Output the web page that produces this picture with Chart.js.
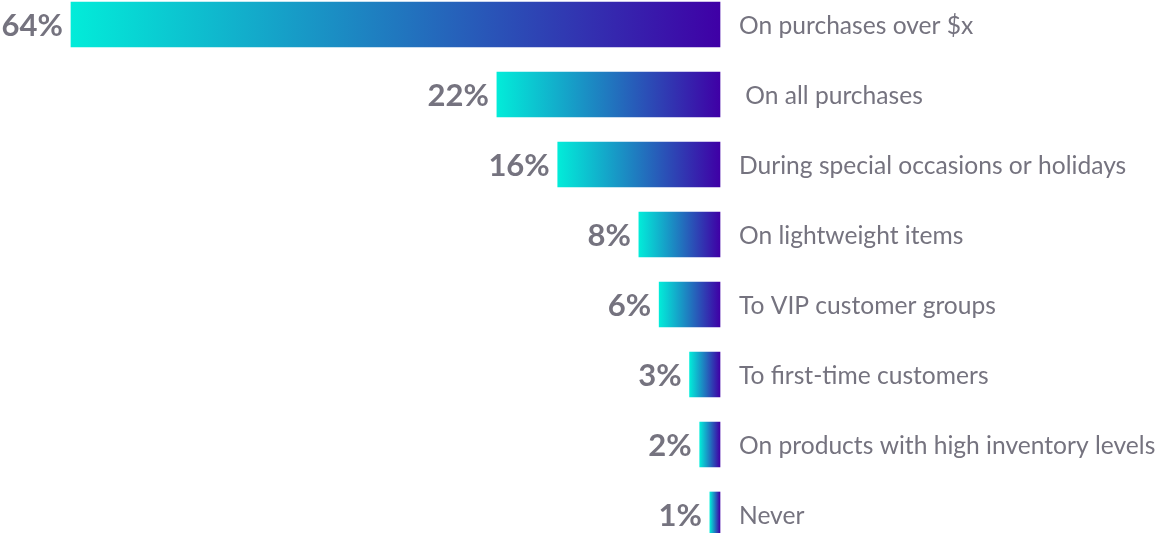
<!DOCTYPE html>
<html>
<head>
<meta charset="utf-8">
<script src="https://cdn.jsdelivr.net/npm/chart.js@4/dist/chart.umd.min.js"></script>
<style>
  html, body { margin: 0; padding: 0; background: #ffffff; }
  #wrap { width: 1156px; height: 533px; position: relative; }
</style>
</head>
<body>
<div id="wrap"><canvas id="c"></canvas></div>
<script>
const categories = [
  "On purchases over $x",
  " On all purchases",
  "During special occasions or holidays",
  "On lightweight items",
  "To VIP customer groups",
  "To first-time customers",
  "On products with high inventory levels",
  "Never"
];
const values = [64, 22, 16, 8, 6, 3, 2, 1];
const valueLabels = ["64%", "22%", "16%", "8%", "6%", "3%", "2%", "1%"];

const TEXT_GRAY = "#75737f";
const FONT = "Lato, 'Open Sans', sans-serif";

function barGradient(ctx) {
  const chart = ctx.chart;
  if (!chart.chartArea || !chart.scales.x) return "#1aa0c8";
  const xs = chart.scales.x;
  const v = ctx.raw;
  const xStart = xs.getPixelForValue(v);
  const xEnd = xs.getPixelForValue(0);
  const g = chart.ctx.createLinearGradient(xStart, 0, xEnd, 0);
  g.addColorStop(0, "#02ecd9");
  g.addColorStop(0.5, "#2078bf");
  g.addColorStop(1, "#3f00a6");
  return g;
}

const labelPlugin = {
  id: "labels",
  afterDatasetsDraw(chart) {
    const meta = chart.getDatasetMeta(0);
    const c = chart.ctx;
    const right = chart.chartArea.right;
    c.save();
    c.fillStyle = TEXT_GRAY;
    c.textBaseline = "middle";
    meta.data.forEach((el, i) => {
      c.font = "bold 31px " + FONT;
      c.textAlign = "right";
      c.fillText(valueLabels[i], el.x - 8, el.y + 1);
      c.font = "24.6px " + FONT;
      c.textAlign = "left";
      c.fillText(categories[i], right + 19, el.y + 2);
    });
    c.restore();
  }
};

new Chart(document.getElementById("c"), {
  type: "bar",
  data: {
    labels: categories,
    datasets: [{
      data: values,
      backgroundColor: barGradient,
      borderWidth: 0,
      barThickness: 45,
      clip: false
    }]
  },
  options: {
    indexAxis: "y",
    responsive: true,
    maintainAspectRatio: false,
    animation: false,
    layout: { padding: { top: 24.5, bottom: 18.5, left: 0, right: 436 } },
    plugins: { legend: { display: false }, tooltip: { enabled: false } },
    scales: {
      x: {
        display: false,
        reverse: true,
        min: 0,
        max: 71
      },
      y: {
        display: false,
        offset: false
      }
    }
  },
  plugins: [labelPlugin]
});
</script>
</body>
</html>
